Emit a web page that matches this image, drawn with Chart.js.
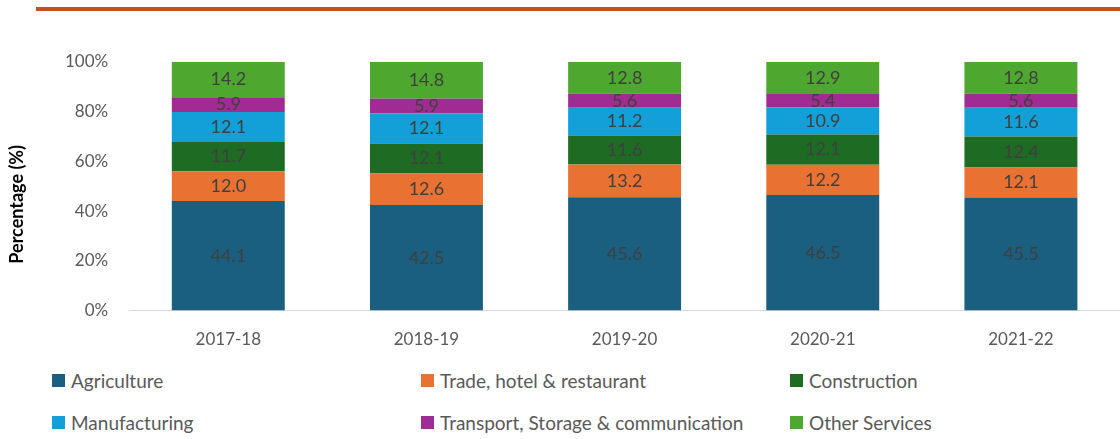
<!DOCTYPE html>
<html>
<head>
<meta charset="utf-8">
<script src="https://cdn.jsdelivr.net/npm/chart.js@4/dist/chart.umd.min.js"></script>
<style>
  body { margin: 0; background: #fff; width: 1120px; height: 439px; position: relative; overflow: hidden; font-family: Lato, "Open Sans", sans-serif; }
  #topline { position: absolute; left: 36px; top: 7px; width: 1084px; height: 4px; background: #c5501d; }
  #wrap { position: absolute; left: 0; top: 0; width: 1120px; height: 369px; }
  #legend { position: absolute; left: 0; top: 366px; width: 1120px; }
  .item { position: absolute; font-size: 19px; color: #595959; display: flex; align-items: center; white-space: nowrap; }
  .box { width: 13px; height: 13px; margin-right: 6px; }
</style>
</head>
<body>
<div id="topline"></div>
<div id="wrap"><canvas id="sectorChart"></canvas></div>
<div id="legend"></div>
<script>
const years = ["2017-18", "2018-19", "2019-20", "2020-21", "2021-22"];
const agriculture = [44.1, 42.5, 45.6, 46.5, 45.5];
const trade = [12.0, 12.6, 13.2, 12.2, 12.1];
const construction = [11.7, 12.1, 11.6, 12.1, 12.4];
const manufacturing = [12.1, 12.1, 11.2, 10.9, 11.6];
const transport = [5.9, 5.9, 5.6, 5.4, 5.6];
const otherServices = [14.2, 14.8, 12.8, 12.9, 12.8];
const yTicks = [0, 20, 40, 60, 80, 100];
const yTitle = "Percentage (%)";

const series = [
    { label: "Agriculture", data: agriculture, color: "#1a5e80" },
    { label: "Trade, hotel & restaurant", data: trade, color: "#e97132" },
    { label: "Construction", data: construction, color: "#1e6b24" },
    { label: "Manufacturing", data: manufacturing, color: "#139fd8" },
    { label: "Transport, Storage & communication", data: transport, color: "#a02b93" },
    { label: "Other Services", data: otherServices, color: "#4ea72e" }
];

// value labels in the middle of each segment + the y title (sits a bit low, like the original)
const segmentLabels = {
    id: "segmentLabels",
    afterDatasetsDraw(chart) {
        const ctx = chart.ctx;
        ctx.save();
        ctx.font = "18px Lato, 'Open Sans', sans-serif";
        ctx.fillStyle = "#404040";
        ctx.textAlign = "center";
        ctx.textBaseline = "middle";
        chart.data.datasets.forEach((ds, i) => {
            chart.getDatasetMeta(i).data.forEach((bar, j) => {
                const mid = (bar.y + bar.base) / 2;
                ctx.fillText(ds.data[j].toFixed(1), bar.x, mid);
            });
        });
        ctx.restore();

        const area = chart.chartArea;
        ctx.save();
        ctx.translate(17, (area.top + area.bottom) / 2 + 18);
        ctx.rotate(-Math.PI / 2);
        ctx.font = "bold 18px Lato, 'Open Sans', sans-serif";
        ctx.fillStyle = "#000";
        ctx.textAlign = "center";
        ctx.textBaseline = "middle";
        ctx.fillText(yTitle, 0, 0);
        ctx.restore();
    }
};

const ctx = document.getElementById("sectorChart").getContext("2d");
new Chart(ctx, {
    type: "bar",
    data: {
        labels: years,
        datasets: series.map(s => ({
            label: s.label,
            data: s.data,
            backgroundColor: s.color,
            borderWidth: 0,
            categoryPercentage: 0.57,
            barPercentage: 1
        }))
    },
    options: {
        responsive: true,
        maintainAspectRatio: false,
        animation: false,
        layout: { padding: { top: 62, right: 0, left: 44, bottom: 0 } },
        plugins: {
            legend: { display: false },
            tooltip: { enabled: false }
        },
        scales: {
            x: {
                stacked: true,
                grid: { display: false, drawTicks: false },
                border: { color: "#d9d9d9", width: 1 },
                ticks: { color: "#595959", font: { size: 17, family: "Lato" }, padding: 19 }
            },
            y: {
                stacked: true,
                min: 0,
                max: 100,
                afterBuildTicks: axis => { axis.ticks = yTicks.map(v => ({ value: v })); },
                grid: { display: false, drawTicks: false },
                border: { display: false },
                ticks: {
                    color: "#595959",
                    font: { size: 17, family: "Lato" },
                    padding: 21,
                    callback: v => v + "%"
                }
            }
        }
    },
    plugins: [segmentLabels]
});

// legend laid out in a 3-column grid like the original
const legendCols = [52, 421, 790];
const legendRows = [15, 57];
const legendEl = document.getElementById("legend");
series.forEach((s, i) => {
    const item = document.createElement("div");
    item.className = "item";
    item.style.left = legendCols[i % 3] + "px";
    item.style.top = (legendRows[Math.floor(i / 3)] - 12) + "px";
    item.innerHTML = '<span class="box" style="background:' + s.color + '"></span>';
    item.appendChild(document.createTextNode(s.label));
    legendEl.appendChild(item);
});
</script>
</body>
</html>
